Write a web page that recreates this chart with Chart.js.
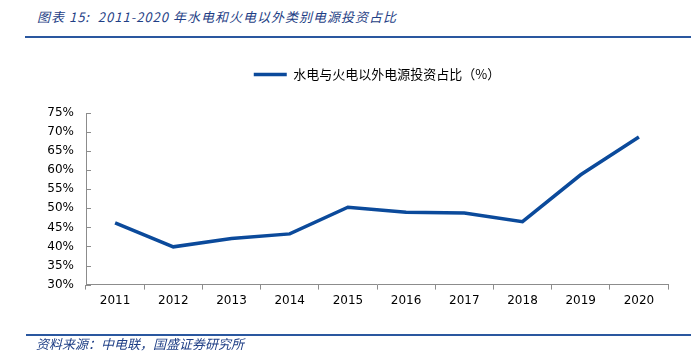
<!DOCTYPE html>
<html>
<head>
<meta charset="utf-8">
<script src="https://cdn.jsdelivr.net/npm/chart.js@4"></script>
<style>
  html, body { margin: 0; padding: 0; background: #fff; }
  #wrap { position: relative; width: 691px; height: 360px; overflow: hidden; }
  #chart { position: absolute; left: 0; top: 0; }
  .title {
    position: absolute; left: 37px; top: 7px; letter-spacing: 1px;
    font: italic 13px "Noto Sans CJK SC", sans-serif; color: #1f3f86;
  }
  .rule { position: absolute; left: 25px; right: 0; height: 2px; background: #2a579f; }
  .source {
    position: absolute; left: 36px; top: 334px;
    font: italic 13px "Noto Sans CJK SC", sans-serif; color: #1f3f86;
  }
</style>
</head>
<body>
<div id="wrap">
  <div class="title">图表 15:&nbsp; 2011-2020 年水电和火电以外类别电源投资占比</div>
  <div class="rule" style="top:36px"></div>
  <canvas id="chart" width="691" height="360"></canvas>
  <div class="rule" style="top:334px;left:26px"></div>
  <div class="source">资料来源：中电联，国盛证券研究所</div>
</div>
<script>
const years = ["2011", "2012", "2013", "2014", "2015", "2016", "2017", "2018", "2019", "2020"];
const shareOther = [46.2, 39.9, 42.1, 43.3, 50.3, 49.0, 48.8, 46.5, 58.8, 68.7];
const seriesName = "水电与火电以外电源投资占比（%）";

const font = { family: "DejaVu Sans", size: 12 };
const axisGrey = "#8c8c8c";

// y ticks drawn on the inner side of the axis line
const innerTicks = {
  id: "innerTicks",
  afterDraw(chart) {
    const y = chart.scales.y;
    const ctx = chart.ctx;
    ctx.save();
    ctx.strokeStyle = axisGrey;
    ctx.lineWidth = 1;
    y.ticks.forEach((t) => {
      const py = Math.round(y.getPixelForValue(t.value)) + 0.5;
      ctx.beginPath();
      ctx.moveTo(y.right, py);
      ctx.lineTo(y.right + 5, py);
      ctx.stroke();
    });
    ctx.restore();
  },
};

// centre the legend over the plot area and lift it a bit
let legendMoved = false;
const legendOverPlot = {
  id: "legendOverPlot",
  beforeDraw(chart) {
    chart.legend.left = chart.chartArea.left;
    chart.legend.right = chart.chartArea.right;
    if (!legendMoved) {
      chart.legend.top -= 22;
      legendMoved = true;
    }
  },
};

new Chart(document.getElementById("chart"), {
  type: "line",
  data: {
    labels: years,
    datasets: [
      {
        label: seriesName,
        data: shareOther,
        borderColor: "#0b4a9b",
        backgroundColor: "#0b4a9b",
        borderWidth: 3.5,
        pointRadius: 0,
        pointStyle: "line",
        tension: 0,
      },
    ],
  },
  options: {
    responsive: false,
    animation: false,
    layout: { padding: { left: 0, right: 23, top: 46, bottom: 48 } },
    plugins: {
      legend: {
        labels: {
          usePointStyle: true,
          pointStyleWidth: 33,
          boxHeight: 13,
          color: "#000",
          font: { family: "Noto Sans CJK SC", size: 13 },
          padding: 44,
        },
      },
      tooltip: { enabled: false },
    },
    scales: {
      x: {
        offset: true,
        grid: { display: true, drawOnChartArea: false, offset: true, color: axisGrey, tickLength: 5 },
        border: { color: axisGrey },
        ticks: { color: "#000", font: font, padding: 4, maxRotation: 0 },
      },
      y: {
        min: 30,
        max: 75,
        afterFit(scale) { scale.width = 86; },
        grid: { display: false },
        border: { color: axisGrey },
        ticks: {
          stepSize: 5,
          color: "#000",
          font: font,
          padding: 4,
          callback: (v) => v + "%",
        },
      },
    },
  },
  plugins: [innerTicks, legendOverPlot],
});
</script>
</body>
</html>
